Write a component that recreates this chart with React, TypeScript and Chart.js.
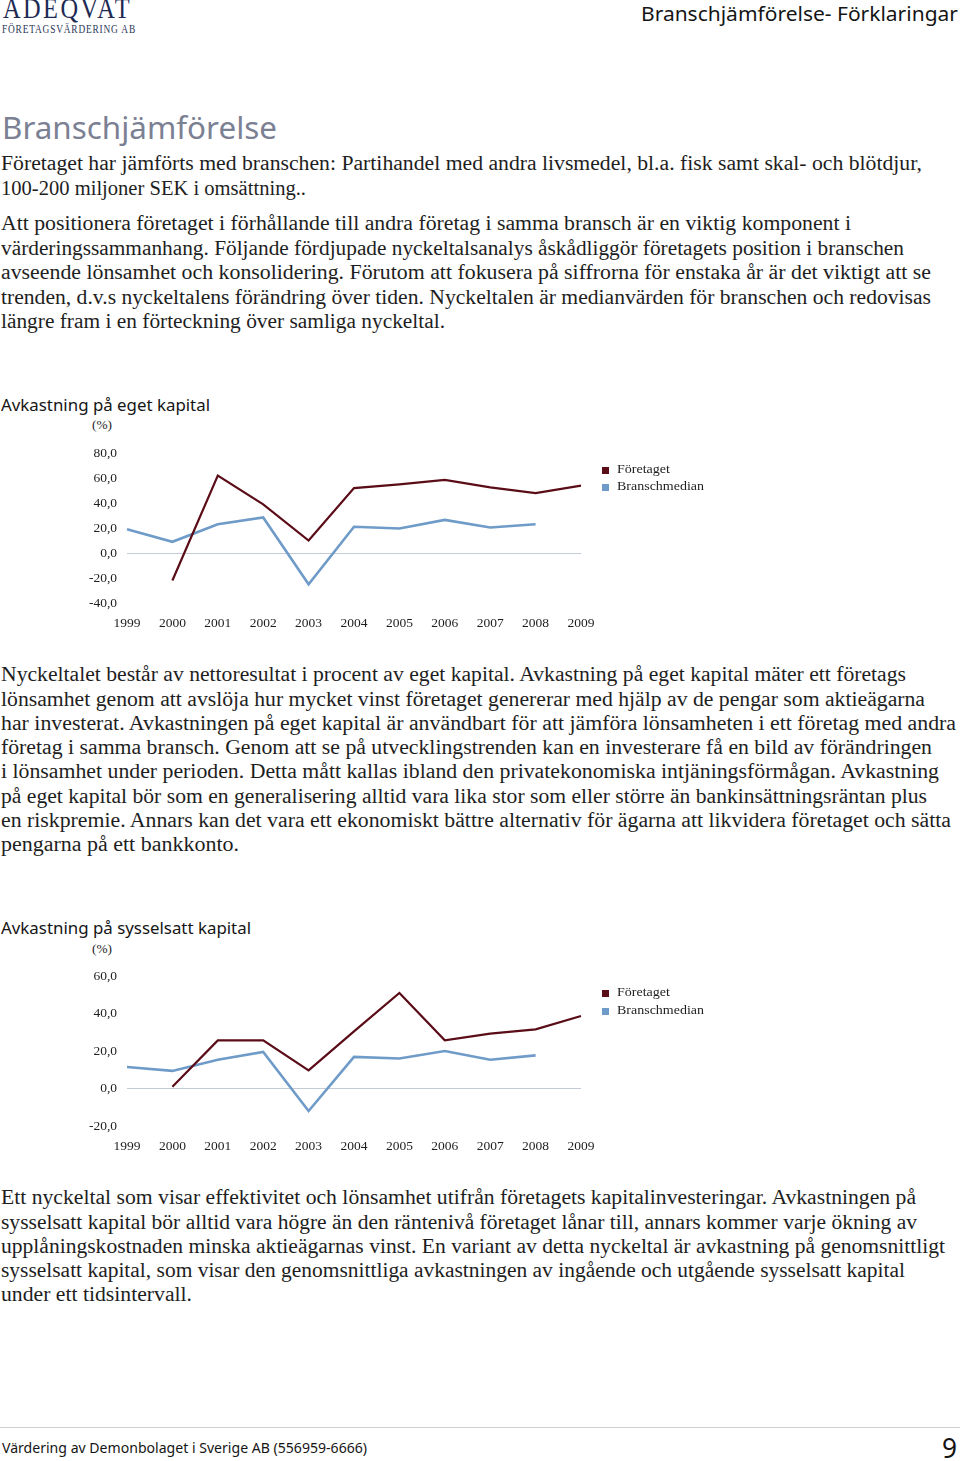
import React, { useEffect, useLayoutEffect, useRef } from "react";
import { Chart, registerables } from "chart.js";

Chart.register(...registerables);

const years = ["1999", "2000", "2001", "2002", "2003", "2004", "2005", "2006", "2007", "2008", "2009"];
const seriesLabels = ["Företaget", "Branschmedian"];

const roeCompany = [null, -22, 62, 39, 10, 52, 55, 58.5, 52.5, 48, 54];
const roeMedian = [19, 9, 23, 28.5, -25, 21, 19.7, 26.5, 20.5, 23, null];
const roeMin = -40;
const roeMax = 80;

const roceCompany = [null, 1, 25.7, 25.7, 9.7, 30.5, 51, 25.7, 29.3, 31.6, 38.7];
const roceMedian = [11.5, 9.4, 15.4, 19.5, -12, 16.9, 16, 20, 15.4, 17.7, null];
const roceMin = -20;
const roceMax = 60;

const tickStep = 20;

const COMPANY = "#5a0c17";
const MEDIAN = "#6f9bc8";
const ZERO = "#c3cbd6";
const TEXT = "#1e1e1e";

const METRICS: any = {
  serif: { family: '"Liberation Serif", serif', asc: 0.891, desc: 0.216 },
  sans: { family: '"Noto Sans", sans-serif', asc: 1.069, desc: 0.293 },
};

function Line(props: any) {
  const { x, base, w, size, kind = "serif", color = TEXT, children, ls = 0, weight = 400 } = props;
  const ref = useRef<HTMLSpanElement>(null);
  const m = METRICS[kind];
  const lh = (m.asc + m.desc) * size;
  const top = base - m.asc * size;
  useLayoutEffect(() => {
    const el = ref.current;
    if (!el || !w) return;
    el.style.transform = "none";
    const nat = el.getBoundingClientRect().width;
    if (nat > 0) el.style.transform = `scaleX(${w / nat})`;
  }, [w]);
  return (
    <div
      style={{
        position: "absolute",
        left: x,
        top,
        height: lh,
        lineHeight: lh + "px",
        whiteSpace: "nowrap",
        fontFamily: m.family,
        fontSize: size,
        color,
        letterSpacing: ls,
        fontWeight: weight,
      }}
    >
      <span ref={ref} style={{ display: "inline-block", transformOrigin: "0 0" }}>
        {children}
      </span>
    </div>
  );
}

const BODY = 20.5;
const BODY_SHIFT = 6;

function Body({ base, right, children }: any) {
  return (
    <Line x={1} base={base + BODY_SHIFT} w={right - 1} size={BODY}>
      {children}
    </Line>
  );
}

function LineChart({ top, company, median, min, max }: any) {
  const ref = useRef<HTMLCanvasElement>(null);
  useEffect(() => {
    const font = { family: '"Liberation Serif", serif', size: 13.5 };
    const chart = new Chart(ref.current as HTMLCanvasElement, {
      type: "line",
      data: {
        labels: years,
        datasets: [
          {
            label: seriesLabels[0],
            data: company,
            borderColor: COMPANY,
            backgroundColor: COMPANY,
            borderWidth: 2.2,
            pointRadius: 0,
            tension: 0,
            spanGaps: false,
          },
          {
            label: seriesLabels[1],
            data: median,
            borderColor: MEDIAN,
            backgroundColor: MEDIAN,
            borderWidth: 2.6,
            pointRadius: 0,
            tension: 0,
            spanGaps: false,
          },
        ],
      },
      options: {
        responsive: false,
        animation: false,
        devicePixelRatio: 1,
        layout: { padding: { top: 0, right: 39, left: 0, bottom: 0 } },
        plugins: { legend: { display: false }, tooltip: { enabled: false } },
        scales: {
          x: {
            offset: false,
            grid: { display: false, drawTicks: false },
            border: { display: false },
            ticks: { font, color: TEXT, padding: 12, maxRotation: 0, autoSkip: false },
            afterFit: (s: any) => {
              s.height = 37;
            },
          },
          y: {
            min,
            max,
            ticks: {
              stepSize: tickStep,
              font,
              color: TEXT,
              padding: 10,
              callback: (v: any) => Number(v).toFixed(1).replace(".", ","),
            },
            grid: {
              drawTicks: false,
              lineWidth: 1,
              color: (ctx: any) => (ctx.tick && ctx.tick.value === 0 ? ZERO : "rgba(0,0,0,0)"),
            },
            border: { display: false },
            afterFit: (s: any) => {
              s.width = 67;
            },
          },
        },
      } as any,
    });
    return () => chart.destroy();
  }, []);
  return (
    <canvas
      ref={ref}
      width={560}
      height={205}
      style={{ position: "absolute", left: 60, top, width: 560, height: 205 }}
    />
  );
}

function Legend({ top }: any) {
  const items = [
    { label: seriesLabels[0], color: COMPANY, dy: 0, w: 53 },
    { label: seriesLabels[1], color: MEDIAN, dy: 17.7, w: 87 },
  ];
  return (
    <>
      {items.map((it) => (
        <React.Fragment key={it.label}>
          <div
            style={{
              position: "absolute",
              left: 601.5,
              top: top + it.dy - 3.5,
              width: 7,
              height: 7,
              background: it.color,
            }}
          />
          <Line x={617} base={top + it.dy + 3.8} w={it.w} size={13.5} kind="serif">
            {it.label}
          </Line>
        </React.Fragment>
      ))}
    </>
  );
}

export default function App() {
  return (
    <div
      style={{
        position: "absolute",
        left: 0,
        top: 0,
        width: 960,
        height: 1461,
        background: "#fff",
        overflow: "hidden",
      }}
    >
      {/* Logo */}
      <Line x={3} base={18} w={129} size={30} kind="serif" color="#1d2a54" ls={3}>
        ADEQVAT
      </Line>
      <Line x={2} base={33.5} w={134} size={11.5} kind="serif" color="#2a3556" ls={1}>
        FÖRETAGSVÄRDERING AB
      </Line>

      {/* Header */}
      <Line x={641} base={21} w={317} size={20} kind="sans" color="#151515">
        Branschjämförelse- Förklaringar
      </Line>

      {/* Title */}
      <Line x={2} base={140.5} w={275} size={30} kind="sans" color="#7b8093">
        Branschjämförelse
      </Line>

      <Body base={164.5} right={922}>
        Företaget har jämförts med branschen: Partihandel med andra livsmedel, bl.a. fisk samt skal- och blötdjur,
      </Body>
      <Body base={189} right={306}>
        100-200 miljoner SEK i omsättning..
      </Body>

      <Body base={224.5} right={851}>
        Att positionera företaget i förhållande till andra företag i samma bransch är en viktig komponent i
      </Body>
      <Body base={249} right={904}>
        värderingssammanhang. Följande fördjupade nyckeltalsanalys åskådliggör företagets position i branschen
      </Body>
      <Body base={273.5} right={931}>
        avseende lönsamhet och konsolidering. Förutom att fokusera på siffrorna för enstaka år är det viktigt att se
      </Body>
      <Body base={298} right={931}>
        trenden, d.v.s nyckeltalens förändring över tiden. Nyckeltalen är medianvärden för branschen och redovisas
      </Body>
      <Body base={322.5} right={445}>
        längre fram i en förteckning över samliga nyckeltal.
      </Body>

      {/* Chart 1 */}
      <Line x={1} base={411.5} w={209} size={17} kind="sans" color="#151515">
        Avkastning på eget kapital
      </Line>
      <Line x={92} base={430} w={20} size={13} kind="serif">
        (%)
      </Line>
      <LineChart top={435} company={roeCompany} median={roeMedian} min={roeMin} max={roeMax} />
      <Legend top={470} />

      <Body base={675.5} right={906}>
        Nyckeltalet består av nettoresultat i procent av eget kapital. Avkastning på eget kapital mäter ett företags
      </Body>
      <Body base={699.8} right={925}>
        lönsamhet genom att avslöja hur mycket vinst företaget genererar med hjälp av de pengar som aktieägarna
      </Body>
      <Body base={724.1} right={956}>
        har investerat. Avkastningen på eget kapital är användbart för att jämföra lönsamheten i ett företag med andra
      </Body>
      <Body base={748.4} right={932}>
        företag i samma bransch. Genom att se på utvecklingstrenden kan en investerare få en bild av förändringen
      </Body>
      <Body base={772.7} right={939}>
        i lönsamhet under perioden. Detta mått kallas ibland den privatekonomiska intjäningsförmågan. Avkastning
      </Body>
      <Body base={797} right={927}>
        på eget kapital bör som en generalisering alltid vara lika stor som eller större än bankinsättningsräntan plus
      </Body>
      <Body base={821.3} right={951}>
        en riskpremie. Annars kan det vara ett ekonomiskt bättre alternativ för ägarna att likvidera företaget och sätta
      </Body>
      <Body base={845.6} right={239}>
        pengarna på ett bankkonto.
      </Body>

      {/* Chart 2 */}
      <Line x={1} base={934.5} w={250} size={17} kind="sans" color="#151515">
        Avkastning på sysselsatt kapital
      </Line>
      <Line x={92} base={953.5} w={20} size={13} kind="serif">
        (%)
      </Line>
      <LineChart top={958} company={roceCompany} median={roceMedian} min={roceMin} max={roceMax} />
      <Legend top={993.5} />

      <Body base={1198.5} right={916}>
        Ett nyckeltal som visar effektivitet och lönsamhet utifrån företagets kapitalinvesteringar. Avkastningen på
      </Body>
      <Body base={1222.8} right={917}>
        sysselsatt kapital bör alltid vara högre än den räntenivå företaget lånar till, annars kommer varje ökning av
      </Body>
      <Body base={1247.1} right={945}>
        upplåningskostnaden minska aktieägarnas vinst. En variant av detta nyckeltal är avkastning på genomsnittligt
      </Body>
      <Body base={1271.4} right={905}>
        sysselsatt kapital, som visar den genomsnittliga avkastningen av ingående och utgående sysselsatt kapital
      </Body>
      <Body base={1295.7} right={192}>
        under ett tidsintervall.
      </Body>

      {/* Footer */}
      <div style={{ position: "absolute", left: 0, top: 1427, width: 960, height: 1, background: "#cfcfcf" }} />
      <Line x={2} base={1453} w={365} size={15} kind="sans" color="#151515">
        Värdering av Demonbolaget i Sverige AB (556959-6666)
      </Line>
      <Line x={942} base={1458.5} w={15} size={27} kind="sans" color="#151515">
        9
      </Line>
    </div>
  );
}
